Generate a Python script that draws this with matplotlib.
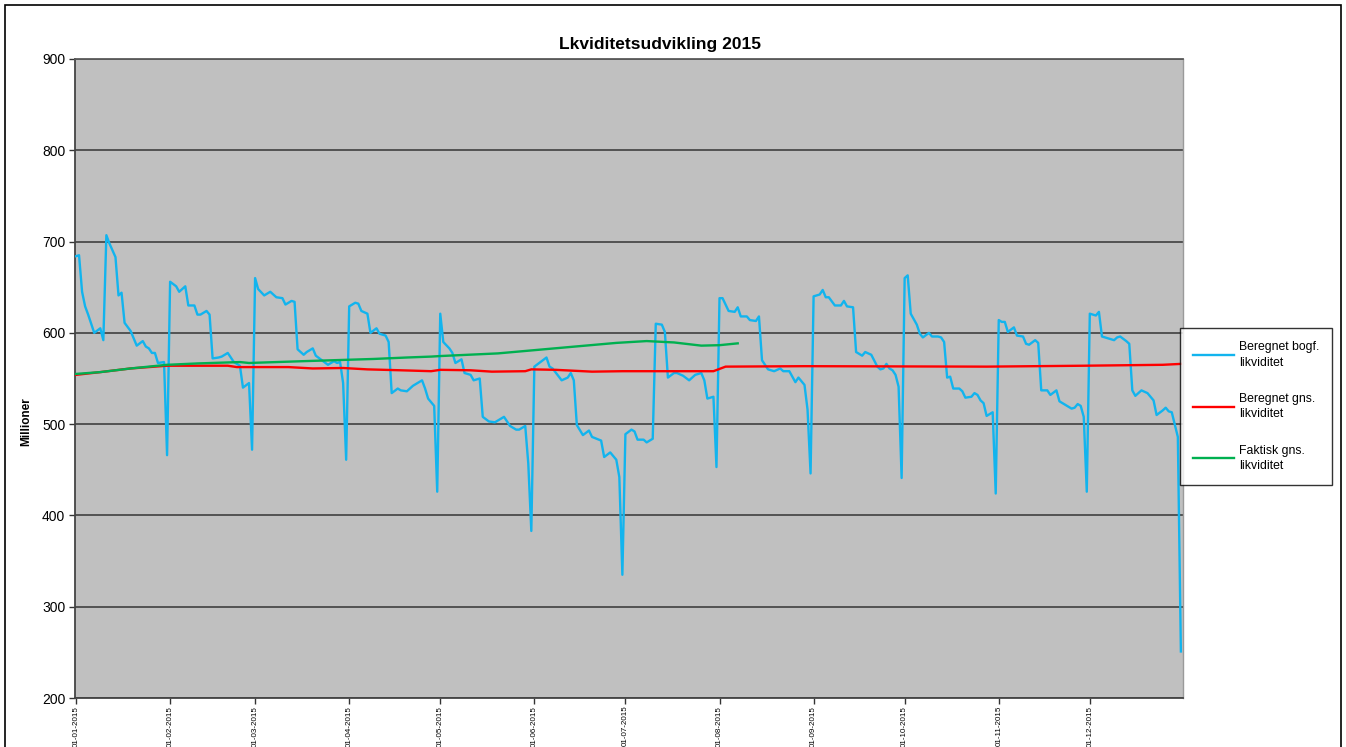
import matplotlib
matplotlib.use("Agg")
import matplotlib.pyplot as plt
import matplotlib.dates as mdates
import matplotlib.patches as mpatches
import pandas as pd

plt.rcParams['font.family'] = ['Liberation Sans', 'DejaVu Sans']

title = "Lkviditetsudvikling 2015"
y_label = "Millioner"
series_names = ["Beregnet bogf.\nlikviditet", "Beregnet gns.\nlikviditet", "Faktisk gns.\nlikviditet"]
year_start = "2015-01-01"

# Beregnet bogf. likviditet: day of year (0 = 1 Jan) and value (millioner)
blue_days = [0, 1, 2, 3, 4, 6, 8, 9, 10, 11, 13, 14, 15, 16, 18, 20, 22, 23, 24, 25, 26, 27, 29, 30,
             31, 33, 34, 36, 37, 39, 40, 41, 43, 44, 45, 47, 48, 50, 52, 54, 55, 57, 58,
             59, 60, 62, 64, 66, 68, 69, 71, 72, 73, 75, 76, 78, 79, 81, 83, 85, 86, 87, 88, 89,
             90, 92, 93, 94, 96, 97, 99, 100, 102, 103, 104, 106, 107, 109, 111, 114, 115, 116, 118, 119,
             120, 121, 123, 124, 125, 127, 128, 130, 131, 133, 134, 136, 138, 141, 143, 145, 146, 148, 149, 150,
             151, 153, 155, 156, 157, 160, 162, 163, 164, 165, 167, 169, 170, 173, 174, 176, 178, 179, 180,
             181, 183, 184, 185, 187, 188, 190, 191, 193, 194, 195, 197, 198, 200, 202, 204, 206, 207, 208, 210, 211,
             212, 213, 215, 217, 218, 219, 221, 222, 224, 225, 226, 228, 230, 232, 233, 235, 237, 238, 240, 241, 242,
             243, 245, 246, 247, 248, 250, 252, 253, 254, 256, 257, 259, 260, 262, 264, 265, 266, 267, 268, 269, 270, 271, 272,
             273, 274, 275, 277, 278, 279, 281, 282, 284, 285, 286, 287, 288, 289, 291, 292, 293, 295, 296, 297, 298, 299, 300, 302, 303,
             304, 305, 306, 307, 309, 310, 312, 313, 314, 316, 317, 318, 320, 321, 323, 324, 326, 328, 329, 330, 331, 332, 333,
             334, 336, 337, 338, 340, 341, 342, 343, 344, 346, 347, 348, 349, 351, 353, 355, 356, 358, 359, 360, 361, 363, 364]
blue_vals = [684, 685, 645, 629, 620, 600, 605, 592, 707, 698, 683, 641, 644, 611, 602, 586, 591, 585, 583, 578, 578, 567, 568, 466,
             656, 651, 645, 651, 630, 630, 620, 620, 624, 620, 572, 573, 574, 578, 568, 564, 540, 545, 472,
             660, 648, 641, 645, 639, 638, 631, 635, 634, 582, 576, 579, 583, 575, 570, 565, 569, 567, 568, 545, 461,
             629, 633, 632, 624, 621, 600, 605, 599, 597, 590, 534, 539, 537, 536, 542, 548, 539, 528, 520, 426,
             621, 590, 583, 578, 567, 571, 556, 554, 548, 550, 508, 503, 502, 508, 498, 494, 494, 498, 457, 383,
             563, 568, 573, 563, 561, 548, 551, 556, 548, 499, 488, 493, 486, 482, 464, 469, 461, 442, 335,
             489, 494, 492, 483, 483, 480, 484, 610, 609, 601, 551, 556, 556, 553, 548, 554, 556, 548, 528, 530, 453,
             638, 638, 624, 623, 628, 618, 618, 614, 613, 618, 570, 560, 558, 561, 558, 558, 546, 551, 543, 516, 446,
             640, 642, 647, 639, 639, 630, 630, 635, 629, 628, 579, 575, 579, 576, 563, 560, 561, 566, 561, 559, 554, 541, 441,
             660, 663, 621, 609, 599, 595, 600, 596, 596, 595, 590, 551, 552, 539, 539, 536, 529, 530, 534, 532, 526, 523, 509, 513, 424,
             614, 612, 612, 601, 606, 597, 596, 588, 587, 592, 589, 537, 537, 532, 537, 525, 521, 517, 518, 522, 520, 508, 426,
             621, 619, 623, 596, 594, 593, 592, 595, 596, 591, 588, 537, 531, 537, 534, 526, 510, 515, 518, 514, 513, 486, 251]

# Beregnet gns. likviditet
red_days = [0, 8, 18, 30, 50, 53, 70, 78, 88, 96, 107, 117, 120, 130, 137, 148, 150, 158, 170, 180, 210, 214,
            240, 300, 332, 358, 364]
red_vals = [554, 557, 561, 564, 564, 562.5, 562.5, 561, 561.5, 560, 559, 558, 559.5, 559, 557.5, 558, 560, 559.5,
            557.5, 558, 558, 563, 563.5, 563, 564, 565, 566]

# Faktisk gns. likviditet
green_days = [0, 8, 18, 30, 40, 54, 57, 75, 98, 109, 117, 120, 139, 161, 178, 188, 197, 206, 212, 218]
green_vals = [555, 557, 561, 565, 566.5, 568, 567, 569, 571.4, 573, 574, 574.6, 577.5, 584, 589, 591, 589.5, 586,
              586.5, 588.5]

y_ticks = [200, 300, 400, 500, 600, 700, 800, 900]

start = pd.Timestamp(year_start)
def to_dates(days):
    return start + pd.to_timedelta(days, unit="D")

W, H = 1346, 747
fig = plt.figure(figsize=(W / 100, H / 100), dpi=100)
fig.patch.set_facecolor("white")
ax = fig.add_axes([75 / W, 1 - 698 / H, (1183 - 75) / W, (698 - 59) / H])
ax.set_facecolor("#C0C0C0")

ax.plot(to_dates(blue_days), blue_vals, color="#12B4EE", lw=1.7, label=series_names[0], zorder=3)
ax.plot(to_dates(red_days), red_vals, color="#FF0000", lw=1.7, label=series_names[1], zorder=3)
ax.plot(to_dates(green_days), green_vals, color="#00B050", lw=1.7, label=series_names[2], zorder=3)

ax.set_ylim(200, 900)
ax.set_yticks(y_ticks)
ax.set_xlim(start - pd.Timedelta(hours=8), start + pd.Timedelta(days=364.7))
ax.xaxis.set_major_locator(mdates.MonthLocator())
ax.xaxis.set_major_formatter(mdates.DateFormatter("%d-%m-%Y"))
ax.grid(axis="y", color="#4A4A4A", lw=1.3, zorder=1)
ax.set_axisbelow(True)

ax.tick_params(axis="x", labelsize=5.8, length=4, width=1, color="#333333", pad=1.5)
ax.tick_params(axis="y", labelsize=10, length=4, width=1, color="#333333", pad=3)
for lab in ax.get_xticklabels():
    lab.set_rotation(90)
for s in ["left", "bottom"]:
    ax.spines[s].set_color("#444444")
    ax.spines[s].set_linewidth(1.3)
ax.spines["top"].set_color("#5A5A5A")
ax.spines["top"].set_linewidth(1.3)
ax.spines["right"].set_color("#9A9A9A")
ax.spines["right"].set_linewidth(1.0)

fig.text(660 / W, 1 - 44 / H, title, ha="center", va="center", fontsize=12.5, fontweight="bold")
fig.text(26 / W, 1 - 422 / H, y_label, ha="center", va="center", rotation=90, fontsize=8.5, fontweight="bold")

leg = fig.legend(loc="upper left", bbox_to_anchor=(1180 / W, 1 - 328 / H), fontsize=8.8,
                 frameon=True, fancybox=False, handlelength=3.3, labelspacing=2.0,
                 borderpad=1.1, handletextpad=0.4, borderaxespad=0)
for t in leg.get_texts():
    t.set_linespacing(1.35)
leg.get_frame().set_edgecolor("black")
leg.get_frame().set_linewidth(1.0)

fig.patches.append(mpatches.Rectangle((5 / W, -0.05), (1341 - 5) / W, 1 - 5 / H + 0.05,
                                      transform=fig.transFigure, fill=False, edgecolor="black", lw=1.2))

fig.savefig("out.png", dpi=100)
